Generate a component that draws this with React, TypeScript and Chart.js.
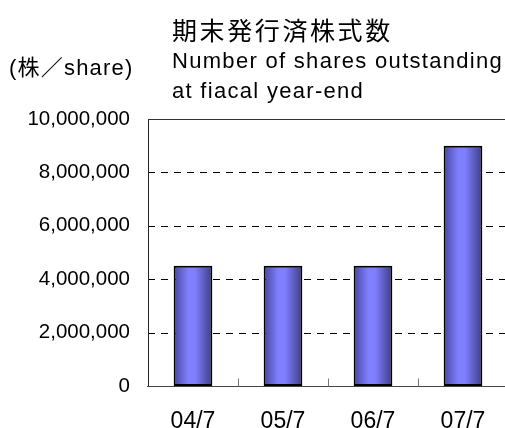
import React, { useEffect, useRef } from "react";
import { Chart, registerables } from "chart.js";

Chart.register(...registerables);

const categories = ["04/7", "05/7", "06/7", "07/7"];
const sharesOutstanding = [4500000, 4500000, 4500000, 9000000];
const yTickValues = [0, 2000000, 4000000, 6000000, 8000000, 10000000];
const titleJa = "期末発行済株式数";
const titleEnLines = ["Number of shares outstanding", "at fiacal year-end"];
const unitLabel = "(株／share)";

const BAR_PCT = 0.43;
const NUM_FONT = "'Liberation Sans', Arial, sans-serif";

const framePlugin = {
  id: "framePlugin",
  beforeDatasetsDraw(chart: any) {
    const { ctx, chartArea, scales } = chart;
    const y = scales.y;
    ctx.save();
    ctx.strokeStyle = "#000";
    ctx.lineWidth = 1;
    ctx.setLineDash([7, 6]);
    yTickValues.forEach((v) => {
      if (v === 0 || v === yTickValues[yTickValues.length - 1]) return;
      const py = Math.round(y.getPixelForValue(v)) + 0.5;
      ctx.beginPath();
      ctx.moveTo(chartArea.left, py);
      ctx.lineTo(chartArea.right, py);
      ctx.stroke();
    });
    ctx.restore();
  },
  afterDatasetsDraw(chart: any) {
    const { ctx, chartArea, scales } = chart;
    const x = scales.x;
    const y = scales.y;
    ctx.save();
    ctx.setLineDash([]);
    ctx.lineWidth = 1;
    ctx.strokeStyle = "#333";
    const topY = Math.round(y.getPixelForValue(yTickValues[yTickValues.length - 1])) + 0.5;
    ctx.beginPath();
    ctx.moveTo(chartArea.left, topY);
    ctx.lineTo(chartArea.right, topY);
    ctx.stroke();
    ctx.strokeStyle = "#222";
    const lx = Math.round(chartArea.left) + 0.5;
    const by = Math.round(y.getPixelForValue(0)) + 0.5;
    ctx.beginPath();
    ctx.moveTo(lx, topY);
    ctx.lineTo(lx, by);
    ctx.stroke();
    ctx.strokeStyle = "#444";
    ctx.beginPath();
    ctx.moveTo(chartArea.left - 1, by);
    ctx.lineTo(chartArea.right, by);
    ctx.stroke();
    ctx.strokeStyle = "#777";
    for (let i = 0; i < categories.length - 1; i++) {
      const bx = Math.round((x.getPixelForValue(i) + x.getPixelForValue(i + 1)) / 2) + 0.5;
      ctx.beginPath();
      ctx.moveTo(bx, by);
      ctx.lineTo(bx, by - 8);
      ctx.stroke();
    }
    ctx.restore();
  },
};

function barGradient(context: any) {
  const chart = context.chart;
  const xs = chart.scales && chart.scales.x;
  if (!xs || !chart.chartArea) return "#8080ff";
  const center = xs.getPixelForValue(context.dataIndex);
  const half = (xs.width / categories.length) * BAR_PCT / 2;
  const g = chart.ctx.createLinearGradient(center - half, 0, center + half, 0);
  g.addColorStop(0, "#4646a0");
  g.addColorStop(0.38, "#8080ff");
  g.addColorStop(0.55, "#8080ff");
  g.addColorStop(1, "#3c3c84");
  return g;
}

export default function App() {
  const canvasRef = useRef<HTMLCanvasElement | null>(null);

  useEffect(() => {
    const canvas = canvasRef.current;
    if (!canvas) return;
    const chart = new Chart(canvas, {
      type: "bar",
      data: {
        labels: categories,
        datasets: [
          {
            data: sharesOutstanding,
            backgroundColor: barGradient,
            borderColor: "#000",
            borderWidth: 2,
            borderSkipped: false,
            barPercentage: BAR_PCT,
            categoryPercentage: 1,
          },
        ],
      },
      options: {
        animation: false,
        responsive: false,
        devicePixelRatio: 1,
        layout: { padding: { top: 119, right: 12, left: 0, bottom: 0 } },
        plugins: { legend: { display: false }, tooltip: { enabled: false }, title: { display: false } },
        scales: {
          x: {
            grid: { display: false, drawTicks: false },
            border: { display: false },
            ticks: { color: "#000", padding: 22, font: { family: NUM_FONT, size: 23 }, maxRotation: 0 },
            afterFit: (s: any) => {
              s.height = 42;
            },
          },
          y: {
            min: 0,
            max: yTickValues[yTickValues.length - 1],
            grid: { display: false, drawTicks: false },
            border: { display: false },
            afterBuildTicks: (s: any) => {
              s.ticks = yTickValues.map((v) => ({ value: v }));
            },
            ticks: {
              color: "#000",
              padding: 18,
              font: { family: NUM_FONT, size: 20.5 },
              callback: (v: any) => Number(v).toLocaleString("en-US"),
            },
            afterFit: (s: any) => {
              s.width = 148;
            },
          },
        },
      },
      plugins: [framePlugin],
    });
    return () => chart.destroy();
  }, []);

  return (
    <div
      style={{
        position: "fixed",
        left: 0,
        top: 0,
        width: 505,
        height: 428,
        overflow: "hidden",
        background: "#fff",
      }}
    >
      <canvas ref={canvasRef} width={520} height={428} style={{ position: "absolute", left: 0, top: 0, width: 520, height: 428 }} />
      <div
        style={{
          position: "absolute",
          left: 172,
          top: 17,
          fontFamily: "'Noto Sans CJK JP', sans-serif",
          fontSize: 25,
          lineHeight: "25px",
          letterSpacing: "2.6px",
          whiteSpace: "nowrap",
          color: "#000",
        }}
      >
        {titleJa}
      </div>
      <div
        style={{
          position: "absolute",
          left: 172,
          top: 46,
          fontFamily: NUM_FONT,
          fontSize: 22,
          lineHeight: "30px",
          letterSpacing: "1.3px",
          whiteSpace: "nowrap",
          color: "#000",
        }}
      >
        {titleEnLines.map((l) => (
          <div key={l}>{l}</div>
        ))}
      </div>
      <div
        style={{
          position: "absolute",
          left: 9,
          top: 53,
          fontFamily: "'Liberation Sans', 'Noto Sans CJK JP', sans-serif",
          fontSize: 22,
          lineHeight: "30px",
          letterSpacing: "1.2px",
          whiteSpace: "nowrap",
          color: "#000",
        }}
      >
        {unitLabel}
      </div>
    </div>
  );
}
